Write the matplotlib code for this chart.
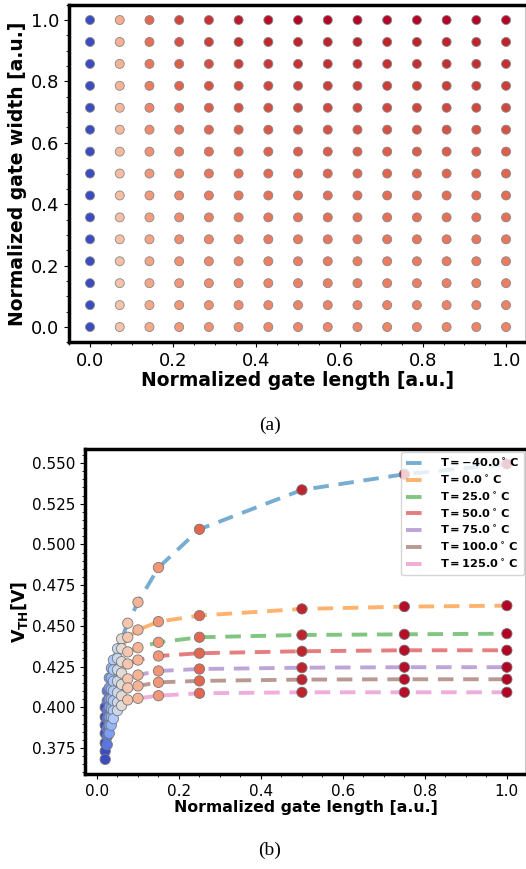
import matplotlib
matplotlib.use("Agg")
import matplotlib.pyplot as plt
import numpy as np

# (a) grid of normalized gate length / width, coloured by threshold voltage
grid_length = [0.0, 1 / 14, 2 / 14, 3 / 14, 4 / 14, 5 / 14, 6 / 14, 7 / 14,
               8 / 14, 9 / 14, 10 / 14, 11 / 14, 12 / 14, 13 / 14, 1.0]
grid_width = [0.0, 1 / 14, 2 / 14, 3 / 14, 4 / 14, 5 / 14, 6 / 14, 7 / 14,
              8 / 14, 9 / 14, 10 / 14, 11 / 14, 12 / 14, 13 / 14, 1.0]
# colour level per (width row, length column), row 0 = width 0
grid_level = [
    [0.0, 0.63, 0.71, 0.75, 0.77, 0.78, 0.79, 0.795, 0.80, 0.80, 0.80, 0.80, 0.80, 0.80, 0.80],
    [0.0, 0.63, 0.715, 0.755, 0.775, 0.785, 0.795, 0.80, 0.805, 0.805, 0.805, 0.805, 0.805, 0.805, 0.805],
    [0.0, 0.635, 0.72, 0.76, 0.78, 0.79, 0.80, 0.805, 0.81, 0.81, 0.81, 0.81, 0.81, 0.81, 0.81],
    [0.0, 0.64, 0.725, 0.77, 0.79, 0.80, 0.81, 0.815, 0.82, 0.82, 0.82, 0.82, 0.82, 0.82, 0.82],
    [0.0, 0.64, 0.73, 0.78, 0.80, 0.81, 0.82, 0.825, 0.83, 0.83, 0.83, 0.83, 0.83, 0.83, 0.83],
    [0.0, 0.645, 0.74, 0.785, 0.81, 0.82, 0.83, 0.835, 0.84, 0.84, 0.84, 0.84, 0.84, 0.84, 0.84],
    [0.0, 0.65, 0.75, 0.795, 0.82, 0.83, 0.84, 0.845, 0.85, 0.85, 0.85, 0.85, 0.85, 0.85, 0.85],
    [0.0, 0.655, 0.76, 0.805, 0.83, 0.845, 0.855, 0.86, 0.865, 0.865, 0.865, 0.865, 0.865, 0.865, 0.865],
    [0.0, 0.66, 0.77, 0.82, 0.845, 0.86, 0.87, 0.875, 0.88, 0.88, 0.88, 0.88, 0.88, 0.88, 0.88],
    [0.0, 0.665, 0.785, 0.835, 0.86, 0.88, 0.89, 0.895, 0.90, 0.90, 0.90, 0.90, 0.90, 0.90, 0.90],
    [0.0, 0.67, 0.80, 0.85, 0.88, 0.90, 0.91, 0.915, 0.92, 0.92, 0.92, 0.92, 0.92, 0.92, 0.92],
    [0.0, 0.68, 0.815, 0.865, 0.895, 0.915, 0.925, 0.93, 0.935, 0.935, 0.935, 0.935, 0.935, 0.935, 0.935],
    [0.0, 0.685, 0.83, 0.88, 0.91, 0.935, 0.945, 0.95, 0.955, 0.955, 0.955, 0.955, 0.955, 0.955, 0.955],
    [0.0, 0.69, 0.845, 0.90, 0.93, 0.955, 0.965, 0.97, 0.97, 0.97, 0.97, 0.97, 0.97, 0.97, 0.97],
    [0.0, 0.70, 0.86, 0.92, 0.95, 0.98, 0.99, 1.0, 1.0, 1.0, 1.0, 1.0, 1.0, 1.0, 1.0],
]

# (b) threshold voltage vs normalized gate length at several temperatures
gate_length = [0.02, 0.025, 0.03, 0.035, 0.04, 0.05, 0.06, 0.075,
               0.1, 0.15, 0.25, 0.5, 0.75, 1.0]
length_level = [0.0, 0.1, 0.2, 0.27, 0.34, 0.43, 0.52, 0.62,
                0.68, 0.76, 0.86, 0.97, 0.99, 1.0]
temperatures = ["-40.0", "0.0", "25.0", "50.0", "75.0", "100.0", "125.0"]
vth_m40 = [0.400, 0.410, 0.418, 0.424, 0.429, 0.436, 0.442, 0.4516,
           0.4645, 0.4858, 0.5093, 0.5335, 0.5431, 0.5494]
vth_0 = [0.394, 0.404, 0.412, 0.418, 0.423, 0.430, 0.436, 0.443,
         0.4475, 0.4526, 0.4563, 0.4604, 0.4618, 0.4624]
vth_25 = [0.389, 0.398, 0.405, 0.411, 0.416, 0.423, 0.428, 0.434,
          0.4366, 0.4399, 0.443, 0.4444, 0.4448, 0.4452]
vth_50 = [0.384, 0.393, 0.400, 0.405, 0.410, 0.416, 0.421, 0.4266,
          0.429, 0.4315, 0.4332, 0.4344, 0.435, 0.435]
vth_75 = [0.378, 0.387, 0.394, 0.399, 0.404, 0.409, 0.414, 0.4174,
          0.4198, 0.4223, 0.4235, 0.4243, 0.4246, 0.4246]
vth_100 = [0.373, 0.382, 0.389, 0.394, 0.398, 0.403, 0.407, 0.4119,
           0.4131, 0.4153, 0.4162, 0.417, 0.4172, 0.4172]
vth_125 = [0.368, 0.377, 0.384, 0.389, 0.393, 0.398, 0.401, 0.4045,
           0.4055, 0.4071, 0.4086, 0.4092, 0.4092, 0.4092]
vth_curves = [vth_m40, vth_0, vth_25, vth_50, vth_75, vth_100, vth_125]

fig = plt.figure(figsize=(5.26, 8.69), dpi=100)

# ---- panel (a)
ax = fig.add_axes([0.1316, 0.606, 0.870, 0.3886])
gx, gy = np.meshgrid(grid_length, grid_width)
ax.scatter(gx.ravel(), gy.ravel(), c=np.array(grid_level).ravel(), cmap="coolwarm",
           vmin=0, vmax=1, s=42, edgecolors="#888888", linewidths=0.6, zorder=3)
ax.set_xlim(-0.05, 1.05)
ax.set_ylim(-0.05, 1.05)
ax.set_xticks([0.0, 0.2, 0.4, 0.6, 0.8, 1.0])
ax.set_yticks([0.0, 0.2, 0.4, 0.6, 0.8, 1.0])
ax.minorticks_on()
ax.tick_params(labelsize=13)
ax.set_xlabel("Normalized gate length [a.u.]", fontsize=13.5, fontweight="bold", labelpad=1)
ax.set_ylabel("Normalized gate width [a.u.]", fontsize=13.5, fontweight="bold", labelpad=3)
for sp in ax.spines.values():
    sp.set_linewidth(2.5)
fig.text(0.513, 0.510, "(a)", family="Liberation Serif", fontsize=14, ha="center", va="center")

# ---- panel (b)
ax = fig.add_axes([0.1618, 0.1091, 0.840, 0.374])
for i, (temp, vth) in enumerate(zip(temperatures, vth_curves)):
    ax.plot(gate_length, vth, linestyle=(0, (4, 2.5)), linewidth=2.8, color=f"C{i}",
            alpha=0.6, label=r"$\mathbf{T = %s^\circ\, C}$" % temp, zorder=2)
    ax.scatter(gate_length, vth, c=length_level, cmap="coolwarm", vmin=0, vmax=1,
               s=55, edgecolors="#777777", linewidths=0.6, zorder=3)
ax.set_xlim(-0.029, 1.049)
ax.set_ylim(0.3589, 0.5585)
ax.set_xticks([0.0, 0.2, 0.4, 0.6, 0.8, 1.0])
ax.set_yticks([0.375, 0.400, 0.425, 0.450, 0.475, 0.500, 0.525, 0.550])
ax.minorticks_on()
ax.tick_params(labelsize=11)
ax.set_xlabel("Normalized gate length [a.u.]", fontsize=11.3, fontweight="bold", labelpad=1)
ax.set_ylabel(r"$\mathbf{V_{TH}[V]}$", fontsize=12.5, labelpad=1)
for sp in ax.spines.values():
    sp.set_linewidth(2.5)
ax.legend(loc="upper right", fontsize=8.2, handlelength=2.2, borderaxespad=0.25,
          labelspacing=0.42)
fig.text(0.513, 0.021, "(b)", family="Liberation Serif", fontsize=14, ha="center", va="center")

fig.savefig("out.png", dpi=100)
